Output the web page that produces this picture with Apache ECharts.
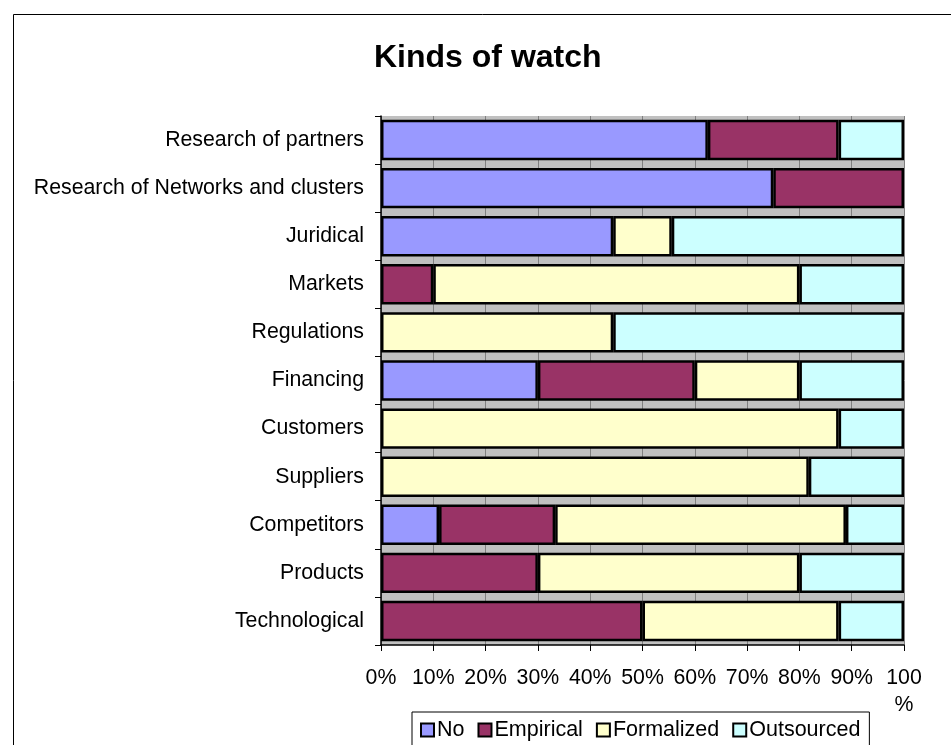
<!DOCTYPE html>
<html>
<head>
<meta charset="utf-8">
<title>Kinds of watch</title>
<script src="https://cdn.jsdelivr.net/npm/echarts@6/dist/echarts.min.js"></script>
<style>
  html, body { margin: 0; padding: 0; background: #fff; }
  #chart { width: 951px; height: 745px; }
</style>
</head>
<body>
<div id="chart"></div>
<script>
// Categories, listed top to bottom
const categories = [
  'Research of partners',
  'Research of Networks and clusters',
  'Juridical',
  'Markets',
  'Regulations',
  'Financing',
  'Customers',
  'Suppliers',
  'Competitors',
  'Products',
  'Technological'
];

// Share of each kind of watch (%)
const noWatch    = [62.5, 75, 44.4, 0, 0, 30, 0, 0, 11.1, 0, 0];
const empirical  = [25, 25, 0, 10, 0, 30, 0, 0, 22.2, 30, 50];
const formalized = [0, 0, 11.2, 70, 44.4, 20, 87.5, 81.8, 55.6, 50, 37.5];
const outsourced = [12.5, 0, 44.4, 20, 55.6, 20, 12.5, 18.2, 11.1, 20, 12.5];

const seriesNames = ['No', 'Empirical', 'Formalized', 'Outsourced'];
const seriesColors = ['#9999FF', '#993366', '#FFFFCC', '#CCFFFF'];

const FONT = "'Liberation Sans', Arial, sans-serif";

// Empty segments are skipped so no zero-width outline is drawn
const toData = arr => arr.map(v => (v === 0 ? '-' : v));

const seriesData = [noWatch, empirical, formalized, outsourced];

const chart = echarts.init(document.getElementById('chart'), null, { renderer: 'canvas' });

chart.setOption({
  animation: false,
  backgroundColor: '#ffffff',
  title: {
    text: 'Kinds of watch',
    left: 374,
    top: 42,
    padding: 0,
    textStyle: { fontFamily: FONT, fontWeight: 'bold', fontSize: 32, color: '#000' }
  },
  graphic: [{
    type: 'rect',
    shape: { x: 13.5, y: 14.5, width: 1000, height: 800 },
    style: { fill: 'none', stroke: '#000', lineWidth: 1 },
    silent: true,
    z: -1
  }],
  legend: {
    data: seriesNames,
    left: 412,
    top: 712,
    orient: 'horizontal',
    icon: 'rect',
    itemWidth: 13,
    itemHeight: 13,
    itemGap: 13,
    padding: [7, 9, 6, 8],
    borderColor: '#000',
    borderWidth: 1,
    backgroundColor: '#fff',
    itemStyle: { borderColor: '#000', borderWidth: 2 },
    textStyle: { fontFamily: FONT, fontSize: 21.5, color: '#000', padding: [0, 0, 0, -2] }
  },
  grid: {
    left: 381,
    right: 47,
    top: 116,
    bottom: 100,
    show: true,
    backgroundColor: '#C0C0C0',
    borderWidth: 0
  },
  xAxis: {
    type: 'value',
    min: 0,
    max: 100,
    interval: 10,
    axisLine: { show: true, lineStyle: { color: '#000', width: 1.5 } },
    axisTick: { show: true, length: 6, lineStyle: { color: '#000', width: 1 } },
    splitLine: { show: true, lineStyle: { color: '#808080', width: 1 } },
    axisLabel: {
      margin: 20,
      fontFamily: FONT,
      fontSize: 21.3,
      color: '#000',
      lineHeight: 27,
      formatter: v => (v === 100 ? '100\n%' : v + '%')
    }
  },
  yAxis: {
    type: 'category',
    data: categories,
    inverse: true,
    axisLine: { show: true, lineStyle: { color: '#000', width: 1.5 } },
    axisTick: { show: true, length: 6, alignWithLabel: false, lineStyle: { color: '#000', width: 1 } },
    axisLabel: { margin: 17, fontFamily: FONT, fontSize: 21.3, color: '#000' },
    splitLine: { show: false }
  },
  series: seriesNames.map((name, i) => ({
    name: name,
    type: 'bar',
    stack: 'total',
    barCategoryGap: '16%',
    data: toData(seriesData[i]),
    itemStyle: { color: seriesColors[i], borderColor: '#000', borderWidth: 2.5 }
  }))
});
</script>
</body>
</html>
